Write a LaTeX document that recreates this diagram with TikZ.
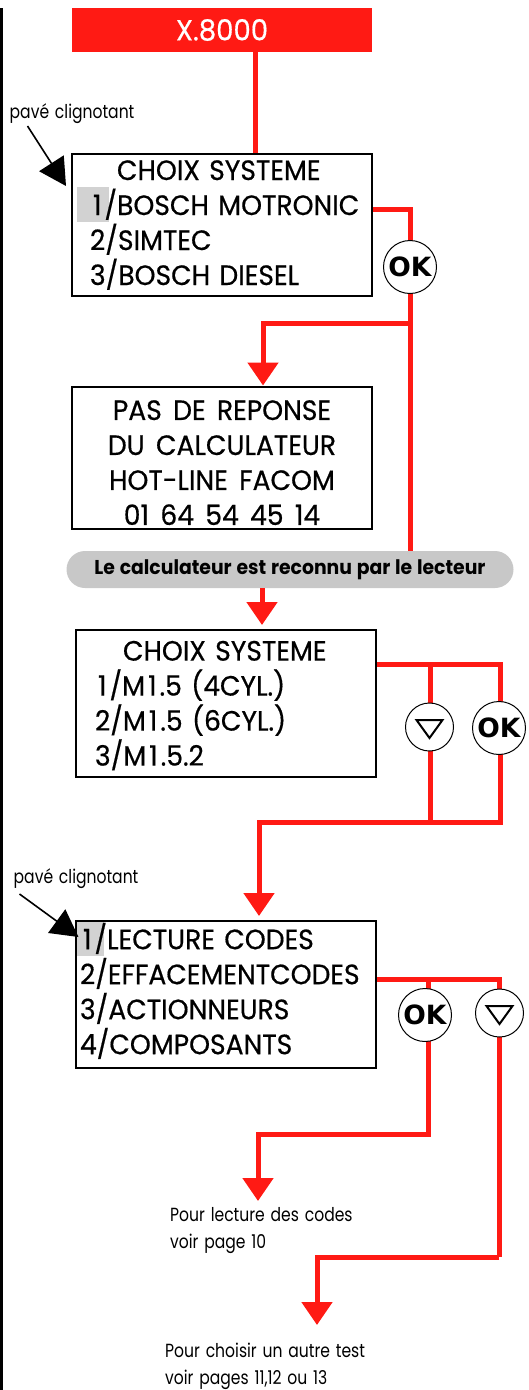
\documentclass[tikz,border=0pt]{standalone}
\usepackage{xcolor}
\usepackage{fontspec}
\usepackage{tikz}
\usetikzlibrary{arrows.meta,positioning,calc}
\setmainfont{Poppins}
\newfontfamily\lcdfont[FakeStretch=0.95,FakeBold=0.5,WordSpace=1.6]{Poppins}
\newfontfamily\notefont[FakeStretch=0.82,WordSpace=1.4]{Poppins}
\newfontfamily\pillfont[FakeStretch=0.94,WordSpace=1.2]{Poppins}
\newfontfamily\keyfont{DejaVu Sans}
\newcommand\wideone{\kern3pt 1\kern3pt}
\definecolor{wirered}{HTML}{FF1A14}
\definecolor{padgray}{HTML}{D2D2D2}
\definecolor{pillgray}{HTML}{C8C8C8}

\begin{document}
\begin{tikzpicture}[
  x=1pt,y=-1pt,
  every node/.style={inner sep=0pt},
  screen/.style={draw=black,line width=2pt,minimum width=300pt,font=\lcdfont\fontsize{28}{35}\selectfont,align=left},
  pad/.style={fill=padgray,anchor=north west},
  note/.style={font=\notefont\fontsize{19}{26.5}\selectfont,align=left,anchor=base west},
  okkey/.style={circle,draw=black,fill=white,line width=1pt,minimum size=53pt,font=\keyfont\bfseries\fontsize{26.5}{26.5}\selectfont},
  downkey/.style={circle,draw=black,fill=white,line width=1pt,minimum size=48pt},
  wire/.style={draw=wirered,line width=5pt},
  flow/.style={wire,-{Triangle[length=23pt,width=30pt]}},
  pointer/.style={draw=black,line width=1.6pt,-{Triangle[length=27pt,width=29pt]}}
]
  \useasboundingbox (0,0) rectangle (529,1390);
  \draw[black,line width=2.4pt] (1.4,8) -- (1.4,1390);

  % Blinking pads sit under the screens' text.
  \node[pad,minimum width=32pt,minimum height=35pt] (padA) at (77,187) {};
  \node[pad,minimum width=28pt,minimum height=34pt] (padB) at (76,922) {};

  % Screens, top to bottom.
  \node[fill=wirered,text=white,minimum width=300pt,minimum height=44pt,font=\lcdfont\fontsize{29}{29}\selectfont] (top) at (222,30) {X.8000};
  \node[screen,minimum height=142pt,text width=292pt] (sysA) at (222,225) {\hspace*{41pt}CHOIX SYSTEME\\\hspace*{14pt}\wideone/BOSCH MOTRONIC\\\hspace*{14pt}2/SIMTEC\\\hspace*{14pt}3/BOSCH DIESEL};
  \node[screen,minimum height=142pt,align=center] (noreply) at (222,458) {\rule{0pt}{29pt}PAS DE REPONSE\\DU CALCULATEUR\\HOT-LINE FACOM\\01 64 54 45 14};
  \node[fill=pillgray,rounded corners=18.5pt,minimum width=447pt,minimum height=37pt,font=\pillfont\bfseries\fontsize{20}{20}\selectfont] (known) at (290,569.5) {Le calculateur est reconnu par le lecteur};
  \node[screen,minimum height=147pt,text width=292pt] (sysB) at (226,703.5) {\rule{0pt}{24pt}\hspace*{43pt}CHOIX SYSTEME\\\hspace*{15pt}\wideone/M\wideone.5 (4CYL.)\\\hspace*{15pt}2/M\wideone.5 (6CYL.)\\\hspace*{15pt}3/M\wideone.5.2};
  \node[screen,minimum height=147pt,text width=292pt] (menu) at (226,994.5) {\wideone/LECTURE CODES\\2/EFFACEMENTCODES\\3/ACTIONNEURS\\4/COMPOSANTS\rule[-12pt]{0pt}{12pt}};

  % Bends of the red lines.
  \coordinate (bendA) at (410,209.5);
  \coordinate (bendB) at (410,323);
  \coordinate (bendC) at (263,323);
  \coordinate (bendD) at (262,625);
  \coordinate (bendE) at (430,664);
  \coordinate (bendF) at (500,664);
  \coordinate (bendG) at (430,822);
  \coordinate (bendH) at (500,822);
  \coordinate (bendI) at (259,822);
  \coordinate (bendJ) at (428,979);
  \coordinate (bendK) at (499,979);
  \coordinate (bendL) at (428,1134);
  \coordinate (bendM) at (258,1134);
  \coordinate (bendN) at (499,1257);
  \coordinate (bendO) at (317,1257);
  \coordinate (endA) at (263,385.5);
  \coordinate (endB) at (259,916);
  \coordinate (endC) at (258,1201);
  \coordinate (endD) at (317,1325);

  \draw[wire] (top.south -| 255,0) -- (sysA.north -| 255,0);
  \draw[wire] (sysA.east |- bendA) -- (bendA) -- (bendA |- known.north);
  \draw[flow] (bendB) -- (bendC) -- (endA);
  \draw[flow] (known.south -| bendD) -- (bendD);
  \draw[wire] (sysB.east |- bendF) -- (bendF) -- (bendH) -- (bendG);
  \draw[wire] (bendE) -- (bendG);
  \draw[flow] (bendG) -- (bendI) -- (endB);
  \draw[wire] (menu.east |- bendK) -- (bendK) -- (bendN);
  \draw[flow] (bendJ) -- (bendL) -- (bendM) -- (endC);
  \draw[flow] (bendN) -- (bendO) -- (endD);

  % Keys sit on top of the lines.
  \node[okkey] (okA) at (410,267) {OK};
  \node[downkey] (downA) at (429.5,727) {};
  \node[okkey] (okB) at (499,728) {OK};
  \node[okkey] (okC) at (425,1015) {OK};
  \node[downkey] (downB) at (499.5,1013) {};
  \foreach \key in {downA,downB}
    \draw[black,line width=2pt] ([shift={(-13,-7)}]\key.center) -- ++(26,0) -- ++(-13,18) -- cycle;

  % Notes and their pointers.
  \node[note] (blinkA) at (9.5,118) {pavé clignotant};
  \node[note] (blinkB) at (13.5,883) {pavé clignotant};
  \coordinate (tipA) at (66,186);
  \coordinate (tipB) at (78.5,937);
  \draw[pointer] ([shift={(18,8)}]blinkA.base west) -- (tipA);
  \draw[pointer] ([shift={(6,11)}]blinkB.base west) -- (tipB);
  \node[note] (readnote) at (170,1248) {Pour lecture des codes\\voir page 10};
  \node[note] (testnote) at (165,1384) {Pour choisir un autre test\\voir pages 11,12 ou 13};
\end{tikzpicture}
\end{document}
